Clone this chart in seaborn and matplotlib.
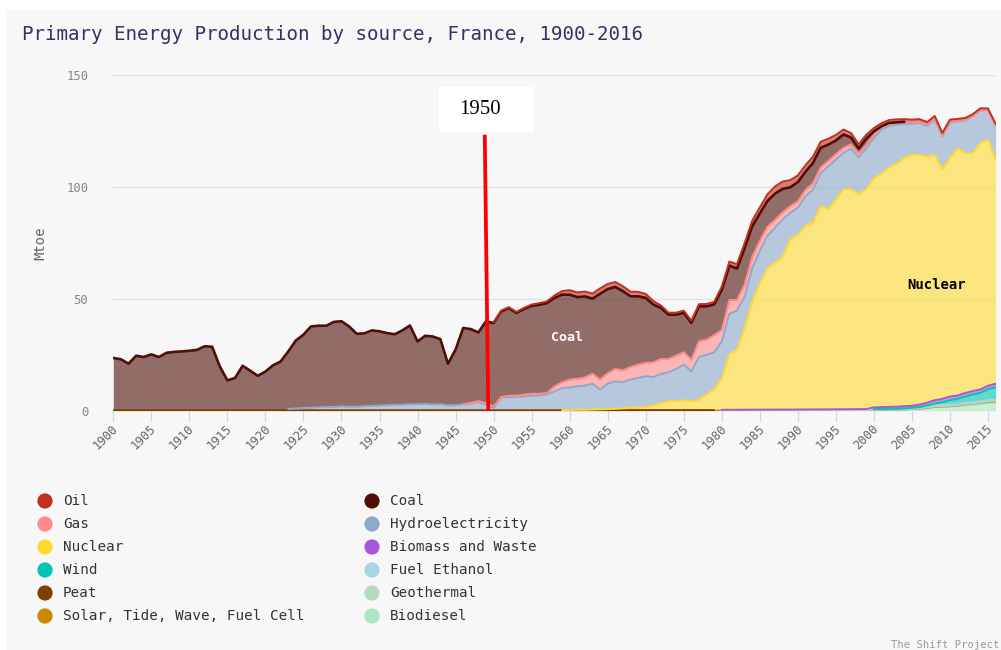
import numpy as np
import pandas as pd
import matplotlib
matplotlib.use("Agg")
import matplotlib.pyplot as plt
import matplotlib.patches as mpatches
import matplotlib.transforms as mtransforms
import seaborn as sns

# ---------------- data ----------------
YEAR_FIRST, YEAR_LAST = 1900, 2016
years = np.arange(YEAR_FIRST, YEAR_LAST + 1)

TITLE = "Primary Energy Production by source, France, 1900-2016"
Y_LABEL = "Mtoe"
Y_TICKS = [0, 50, 100, 150]
X_TICKS = list(range(1900, 2016, 5))

# each series: first year with a value, then yearly values (Mtoe)
oil_start = 1950
oil = [0.3,
       0.4, 0.4, 0.5, 0.5, 0.6, 0.7, 0.8, 1.1, 1.6, 2.0,
       2.1, 2.2, 2.3, 2.4, 2.3, 2.2, 2.2, 2.1, 2.0, 1.8,
       1.6, 1.1, 0.9, 0.9, 1.0, 1.0, 1.0, 1.1, 1.1,
       1.5, 1.8, 2.0, 2.3, 2.5, 2.8, 3.0, 3.2, 3.3, 3.2,
       3.0, 2.9, 2.8, 2.7, 2.6, 2.5, 2.2, 2.0, 1.9, 1.7,
       1.5, 1.4, 1.3, 1.3, 1.2, 1.2, 1.2, 1.1, 1.1, 1.0,
       0.9, 0.8, 0.8, 0.8, 0.8, 0.8, 0.8]

coal_start = 1900
coal = [23.4, 22.8, 20.8, 24.4, 23.8, 25.0, 23.8, 25.7, 26.1, 26.3,
        26.6, 27.0, 28.6, 28.4, 19.6, 13.4, 14.4, 19.9, 17.7, 15.4,
        17.3, 20.1, 21.8, 25.7, 30.4, 32.8, 36.4, 36.5, 36.4, 38.0,
        38.1, 35.9, 32.6, 32.6, 33.7, 33.2, 32.2, 31.6, 33.2, 35.2,
        28.1, 30.5, 30.4, 29.1, 18.6, 24.8, 34.0, 33.0, 30.7, 36.6,
        37.3, 38.3, 39.2, 37.0, 38.3, 39.3, 39.8, 40.2, 39.5, 39.2,
        38.0, 36.5, 36.2, 33.6, 38.4, 37.6, 36.7, 35.4, 31.6, 30.5,
        29.1, 25.8, 22.8, 19.8, 18.3, 17.6, 16.4, 15.6, 14.9, 13.7,
        17.9, 15.4, 14.0, 16.2, 13.7, 12.2, 11.5, 11.8, 10.5, 8.4,
        8.7, 8.1, 9.1, 8.8, 7.3, 6.1, 6.0, 3.0, 2.1, 2.9,
        1.4, 0.6, 0.4, 0.3, 0.2]

gas_start = 1946
gas = [0.2, 0.3, 0.5, 0.6, 0.7,
       0.4, 0.6, 0.6, 0.8, 0.9, 0.8, 0.7, 2.3, 2.6, 3.5,
       3.4, 3.7, 4.4, 4.5, 4.7, 5.5, 5.3, 5.6, 6.0, 5.9,
       6.6, 6.7, 6.0, 6.0, 5.5, 5.3, 7.0, 6.7, 7.8,
       5.2, 6.2, 4.7, 5.5, 5.0, 4.5, 4.0, 3.5, 3.2, 3.0,
       2.8, 2.9, 2.9, 2.7, 2.4, 2.4, 2.2, 2.0, 1.8, 1.6,
       1.5, 1.0, 0.9, 0.8, 0.8, 0.7, 0.6, 0.6, 0.6, 0.5,
       0.4, 0.3, 0.3, 0.2, 0.15, 0.1, 0.1]

hydro_start = 1923
hydro = [0.6, 0.8, 1.0, 1.1, 1.3, 1.4, 1.5, 1.7, 1.6, 1.6,
         1.8, 2.0, 2.1, 2.3, 2.4, 2.5, 2.7, 2.7, 2.8, 2.6,
         2.7, 2.2, 2.3, 2.6, 3.0, 3.6, 2.6, 1.0,
         5.5, 5.9, 5.9, 6.2, 6.5, 6.6, 7.0, 8.4, 9.8, 10.1,
         10.5, 10.8, 11.6, 8.8, 11.4, 12.3, 11.7, 12.7, 13.2, 13.8,
         12.8, 13.0, 12.9, 14.4, 16.0, 13.3, 19.1, 17.8, 16.3,
         16.5, 17.9, 17.4, 14.0, 15.0, 14.5, 14.5, 15.5, 16.5, 12.0,
         12.0, 13.0, 14.8, 14.6, 19.2, 17.9, 16.4, 18.3, 16.5, 18.0,
         18.0, 19.6, 18.6, 17.5, 15.2, 13.8, 14.1, 13.7, 15.9, 14.7,
         15.9, 12.0, 14.6, 16.4, 14.6, 13.1, 14.9]

nuclear_start = 1959
nuclear = [0.1, 0.1, 0.2, 0.2, 0.3, 0.4, 0.5, 0.6, 0.8, 1.0,
           1.2, 1.4, 2.0, 3.2, 4.0, 4.0, 4.4, 4.0, 4.7, 7.0, 9.5,
           14.0, 25.0, 27.0, 36.5, 48.3, 56.5, 63.3, 65.8, 68.5, 76.0,
           78.2, 82.3, 83.5, 90.9, 89.5, 93.8, 98.3, 98.2, 96.1, 98.5,
           102.5, 104.4, 107.1, 108.6, 111.0, 112.3, 111.8, 110.1, 109.5, 102.7,
           106.7, 110.6, 107.3, 106.4, 110.2, 110.0, 100.5]

biomass_start = 1980
biomass = [0.25, 0.25, 0.27, 0.28, 0.30, 0.30, 0.32, 0.33, 0.35, 0.35,
           0.38, 0.40, 0.42, 0.44, 0.45, 0.48, 0.50, 0.52, 0.55, 0.58,
           0.75, 0.8, 0.85, 0.9, 1.0, 0.9, 1.1, 1.3, 1.5, 1.5,
           1.6, 1.5, 1.6, 1.5, 1.5, 1.6, 1.6]

wind_start = 2000
wind = [0.05, 0.1, 0.1, 0.1, 0.15, 0.25, 0.3, 0.45, 0.8, 1.15,
        1.95, 2.3, 2.8, 3.5, 3.8, 4.9, 5.4]

ethanol_start = 2000
ethanol = [0.1, 0.1, 0.1, 0.1, 0.1, 0.15, 0.2, 0.35, 0.5, 0.55,
           0.55, 0.5, 0.5, 0.5, 0.5, 0.5, 0.5]

peat_start = 1900
peat = [0.2, 0.2, 0.2, 0.2, 0.2, 0.2, 0.2, 0.2, 0.2, 0.2,
        0.2, 0.2, 0.2, 0.2, 0.2, 0.2, 0.2, 0.2, 0.2, 0.2,
        0.2, 0.2, 0.2, 0.2, 0.2, 0.2, 0.2, 0.2, 0.2, 0.2,
        0.2, 0.2, 0.2, 0.2, 0.2, 0.2, 0.2, 0.2, 0.2, 0.2,
        0.2, 0.2, 0.2, 0.2, 0.2, 0.2, 0.2, 0.2, 0.2, 0.2,
        0.2, 0.2, 0.2, 0.2, 0.2, 0.2, 0.2, 0.2, 0.2, 0.2,
        0.2, 0.2, 0.2, 0.2, 0.2, 0.2, 0.2, 0.2, 0.2, 0.2,
        0.2, 0.2, 0.2, 0.2, 0.2, 0.2, 0.2, 0.2, 0.2, 0.2]

geothermal_start = 1980
geothermal = [0.1, 0.1, 0.1, 0.1, 0.1, 0.1, 0.1, 0.1, 0.1, 0.1,
              0.1, 0.1, 0.1, 0.1, 0.1, 0.1, 0.1, 0.1, 0.1, 0.1,
              0.15, 0.15, 0.15, 0.15, 0.15, 0.15, 0.15, 0.2, 0.2, 0.2,
              0.2, 0.2, 0.2, 0.2, 0.2, 0.3, 0.3]

solar_start = 1966
solar = [0.05, 0.05, 0.05, 0.05, 0.05, 0.05, 0.05, 0.05, 0.05, 0.05,
         0.05, 0.05, 0.05, 0.05, 0.05, 0.05, 0.05, 0.05, 0.05, 0.05,
         0.05, 0.05, 0.05, 0.05, 0.05, 0.05, 0.05, 0.05, 0.05, 0.05,
         0.05, 0.05, 0.05, 0.05, 0.05, 0.05, 0.05, 0.05, 0.05, 0.05,
         0.05, 0.05, 0.05, 0.1, 0.15, 0.25, 0.35, 0.4, 0.5, 0.6, 0.7]

biodiesel_start = 2000
biodiesel = [0.4, 0.4, 0.45, 0.5, 0.55, 0.7, 0.9, 1.25, 1.65, 1.8,
             1.85, 2.05, 2.45, 2.7, 3.0, 3.3, 3.5]

# legend / stacking order (first = top of the stack)
series_names = ["Oil", "Coal", "Gas", "Hydroelectricity", "Nuclear",
                "Biomass and Waste", "Wind", "Fuel Ethanol", "Peat",
                "Geothermal", "Solar, Tide, Wave, Fuel Cell", "Biodiesel"]
series_values = [(oil_start, oil), (coal_start, coal), (gas_start, gas),
                 (hydro_start, hydro), (nuclear_start, nuclear),
                 (biomass_start, biomass), (wind_start, wind),
                 (ethanol_start, ethanol), (peat_start, peat),
                 (geothermal_start, geothermal), (solar_start, solar),
                 (biodiesel_start, biodiesel)]
series_colors = ["#c0301e", "#4f0f08", "#ff8a8a", "#8eaacb", "#ffd92f",
                 "#a855d8", "#00c4b4", "#a6d6e2", "#7f3f00",
                 "#b2dbbf", "#cc8800", "#aae8c2"]


def full_series(start, values):
    arr = np.zeros(len(years))
    i0 = start - YEAR_FIRST
    arr[i0:i0 + len(values)] = values
    return arr


df = pd.DataFrame({"year": years})
for name, (st, vals) in zip(series_names, series_values):
    df[name] = full_series(st, vals)

# ---------------- style ----------------
BG = "#f7f7f7"
sns.set_theme(style="white")
plt.rcParams["font.family"] = ["DejaVu Sans Mono", "DejaVu Sans"]

W, H = 1001, 650
fig = plt.figure(figsize=(W / 100, H / 100), dpi=100, facecolor="white")

# light grey card behind everything
bg_ax = fig.add_axes([0, 0, 1, 1], zorder=-5)
bg_ax.set_xlim(0, W)
bg_ax.set_ylim(H, 0)
bg_ax.axis("off")
bg_ax.add_patch(mpatches.Rectangle((7, 10), W - 7, H - 10, facecolor=BG,
                                   edgecolor="none"))

ax_left, ax_bottom = 113.3 / W, (H - 410.7) / H
ax_w, ax_h = 882.3 / W, 335.4 / H
ax = fig.add_axes([ax_left, ax_bottom, ax_w, ax_h], zorder=1)
ax.set_facecolor("none")

# ---------------- stacked areas ----------------
cum = np.zeros(len(years))
tops = {}
for name, col in zip(reversed(series_names), reversed(series_colors)):
    v = df[name].to_numpy()
    upper = cum + v
    ax.fill_between(df["year"], cum, upper, color=col, alpha=0.6,
                    linewidth=0, zorder=2)
    tops[name] = upper
    cum = upper

for name, col in zip(reversed(series_names), reversed(series_colors)):
    v = df[name].to_numpy()
    mask = v > 0
    if mask.any():
        sns.lineplot(x=df["year"][mask], y=tops[name][mask], color=col,
                     linewidth=1.9 if name == "Coal" else 1.4, ax=ax,
                     zorder=3)

# ---------------- axes ----------------
ax.set_xlim(YEAR_FIRST, YEAR_LAST)
ax.set_ylim(0, 150)
ax.set_yticks(Y_TICKS)
ax.set_xticks(X_TICKS)
ax.set_xticklabels([str(t) for t in X_TICKS])
ax.set_xlabel("")
ax.set_ylabel(Y_LABEL, fontsize=10, color="#666666")
ax.yaxis.set_label_coords((47 - 113.3) / 882.3, 0.5)
for s in ax.spines.values():
    s.set_visible(False)
ax.grid(axis="y", color="#e3e3e3", linewidth=1.0, zorder=1)
ax.grid(axis="x", visible=False)
ax.set_axisbelow(True)
ax.tick_params(axis="y", length=0, pad=18, labelsize=8.8, labelcolor="#888888")
ax.tick_params(axis="x", bottom=True, direction="out", length=7.2, width=0.9,
               color="#ccd6eb", pad=4, labelsize=8.8, labelcolor="#666666")
offset = mtransforms.ScaledTranslation(3 / 100, 0, fig.dpi_scale_trans)
for lbl in ax.get_xticklabels():
    lbl.set_rotation(45)
    lbl.set_ha("right")
    lbl.set_va("center")
    lbl.set_rotation_mode("anchor")
    lbl.set_transform(lbl.get_transform() + offset)

# in-chart labels
ax.text(1959.6, 32.6, "Coal", color="white", fontsize=9.6, fontweight="bold",
        ha="center", va="center", zorder=5)
ax.text(2008.2, 56.4, "Nuclear", color="black", fontsize=10, fontweight="bold",
        ha="center", va="center", zorder=5)

# 1950 marker
ax.plot([1948.84, 1949.3], [123.4, 0], color="#ff0000", linewidth=2.7,
        solid_capstyle="butt", zorder=6, clip_on=False)
ax.add_patch(mpatches.Rectangle((1942.82, 124.6), 12.49, 20.2, facecolor="white",
                                edgecolor="none", zorder=7, clip_on=False))
ax.text(1948.2, 134.7, "1950", fontsize=15, color="black", ha="center",
        va="center", family=["Liberation Serif", "DejaVu Serif"], zorder=8,
        clip_on=False)

# title and credit
fig.text(22 / W, 1 - 35 / H, TITLE, fontsize=13.8, color="#333366",
         ha="left", va="center")
fig.text(999 / W, 1 - 645 / H, "The Shift Project", fontsize=7.6,
         color="#999999", ha="right", va="center")

# ---------------- legend ----------------
lax = fig.add_axes([0, 0, 1, 1], zorder=2)
lax.set_xlim(0, W)
lax.set_ylim(H, 0)
lax.axis("off")
lax.patch.set_alpha(0)
col_dot_x = [45, 372]
row_y0, row_dy = 501, 23
for i, (name, col) in enumerate(zip(series_names, series_colors)):
    c, r = i % 2, i // 2
    yy = row_y0 + r * row_dy
    lax.scatter([col_dot_x[c]], [yy], s=120, color=col, edgecolor="none")
    lax.text(col_dot_x[c] + 18, yy, name, fontsize=10.3, color="#333333",
             ha="left", va="center")

fig.savefig("out.png", dpi=100, facecolor="white")
